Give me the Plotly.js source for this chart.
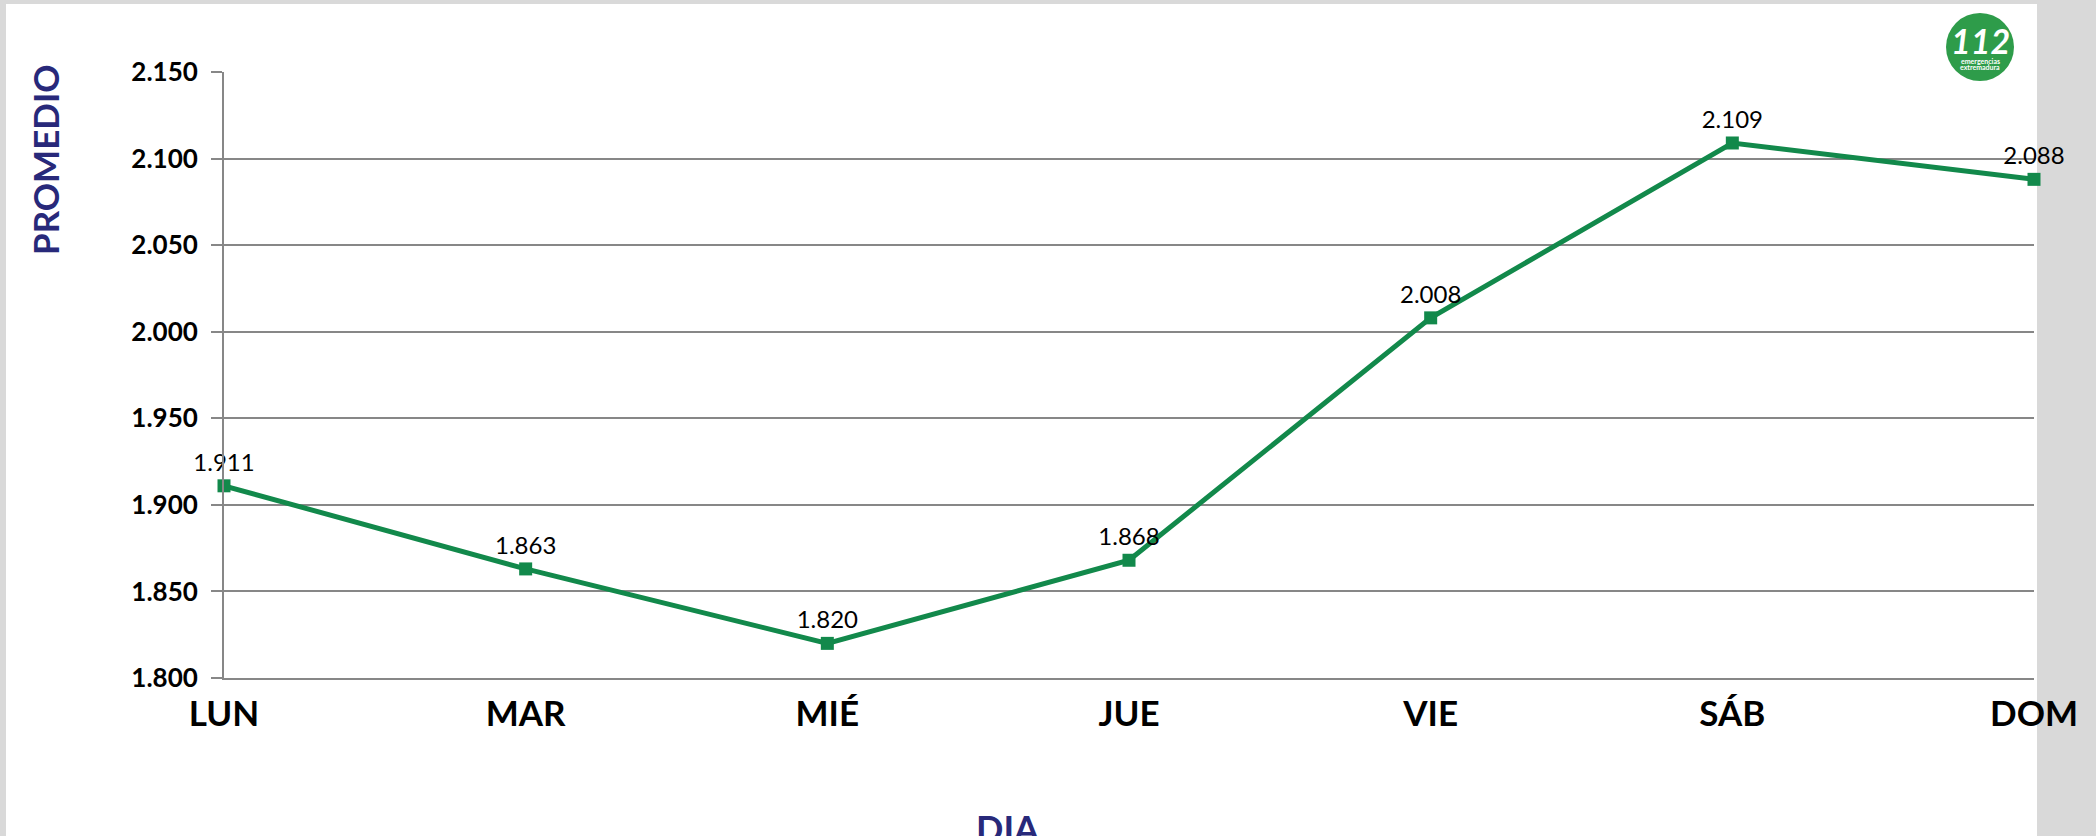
<!DOCTYPE html>
<html>
<head>
<meta charset="utf-8">
<script src="https://cdn.plot.ly/plotly-3.0.1.min.js"></script>
<style>
html,body{margin:0;padding:0;background:#d9d9d9;}
#chart{width:2096px;height:836px;}
</style>
</head>
<body>
<div id="chart"></div>
<script>
// Data
const dias = ["LUN", "MAR", "MIÉ", "JUE", "VIE", "SÁB", "DOM"];
const promedio = [1911, 1863, 1820, 1868, 2008, 2109, 2088];
const yTicks = [1800, 1850, 1900, 1950, 2000, 2050, 2100, 2150];

const W = 2096, H = 836;
const L = 224, R = 62, T = 72, B = 158;
const pw = W - L - R, ph = H - T - B;
const px = x => (x - L) / pw;
const py = y => (H - B - y) / ph;

const green = '#12894b';
const grid = '#878787';
const navy = '#28297a';

const trace = {
  x: dias,
  y: promedio,
  type: 'scatter',
  mode: 'lines+markers+text',
  line: {color: green, width: 5},
  marker: {symbol: 'square', size: 13, color: green},
  texttemplate: '%{y:,}',
  textposition: 'top center',
  textfont: {family: 'Lato, sans-serif', size: 24, color: '#000'},
  cliponaxis: false,
  hoverinfo: 'skip'
};

const layout = {
  width: W, height: H,
  margin: {l: L, r: R, t: T, b: B, pad: 0},
  paper_bgcolor: '#d9d9d9',
  plot_bgcolor: 'rgba(0,0,0,0)',
  separators: ',.',
  showlegend: false,
  font: {family: 'Lato, sans-serif', color: '#000'},
  xaxis: {
    type: 'category',
    range: [0, dias.length - 1],
    showgrid: false,
    showline: true, linecolor: grid, linewidth: 2,
    ticks: '',
    tickfont: {family: 'Lato, sans-serif', size: 35, color: '#000', weight: 'bold'},
    ticklabelstandoff: 4,
    fixedrange: true
  },
  yaxis: {
    range: [1800, 2150],
    tickvals: yTicks,
    tickformat: ',d',
    showgrid: true, gridcolor: grid, gridwidth: 2,
    zeroline: false,
    showline: true, linecolor: grid, linewidth: 2,
    ticks: 'outside', ticklen: 11, tickwidth: 2, tickcolor: grid,
    tickfont: {family: 'Lato, sans-serif', size: 26, color: '#000', weight: 'bold'},
    ticklabelstandoff: 8,
    fixedrange: true
  },
  shapes: [
    {type: 'rect', xref: 'paper', yref: 'paper', layer: 'below',
     x0: px(6), x1: px(2037), y0: py(836), y1: py(4),
     fillcolor: '#ffffff', line: {width: 0}},
    {type: 'circle', xref: 'paper', yref: 'paper', layer: 'above',
     x0: px(1946), x1: px(2014), y0: py(81), y1: py(13),
     fillcolor: '#2e9c4a', line: {width: 0}}
  ],
  annotations: [
    {text: '<b>PROMEDIO</b>', xref: 'paper', yref: 'paper', x: px(45), y: py(160),
     xanchor: 'center', yanchor: 'middle', textangle: -90, showarrow: false,
     font: {family: 'Lato, sans-serif', size: 35, color: navy}},
    {text: '<b>DIA</b>', xref: 'paper', yref: 'paper', x: px(1008), y: py(828),
     xanchor: 'center', yanchor: 'middle', showarrow: false,
     font: {family: 'Lato, sans-serif', size: 36, color: navy}},
    {text: '<b><i>112</i></b>', xref: 'paper', yref: 'paper', x: px(1980), y: py(40),
     xanchor: 'center', yanchor: 'middle', showarrow: false,
     font: {family: 'Lato, sans-serif', size: 34, color: '#ffffff'}},
    {text: '<b>emergencias</b>', xref: 'paper', yref: 'paper', x: px(1980), y: py(61),
     xanchor: 'center', yanchor: 'middle', showarrow: false,
     font: {family: 'Lato, sans-serif', size: 7, color: '#ffffff'}},
    {text: '<b>extremadura</b>', xref: 'paper', yref: 'paper', x: px(1980), y: py(67),
     xanchor: 'center', yanchor: 'middle', showarrow: false,
     font: {family: 'Lato, sans-serif', size: 7, color: '#ffffff'}}
  ]
};

Plotly.newPlot('chart', [trace], layout, {displayModeBar: false, staticPlot: true});
</script>
</body>
</html>
